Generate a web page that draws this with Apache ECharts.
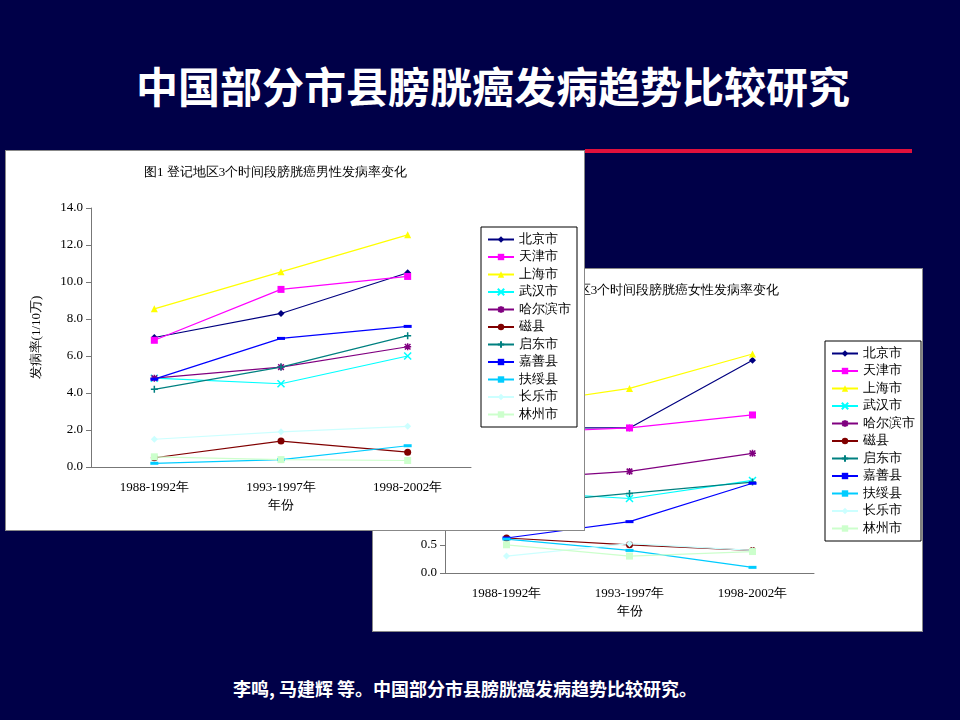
<!DOCTYPE html>
<html><head><meta charset="utf-8">
<script src="https://cdn.jsdelivr.net/npm/echarts@6/dist/echarts.min.js"></script>
<style>
body{margin:0;width:960px;height:720px;background:#000048;position:relative;overflow:hidden;font-family:"Noto Sans CJK SC",sans-serif}
#t{position:absolute;left:0;width:986px;top:54px;text-align:center;color:#fff;font-size:42px;font-weight:bold}
#line{position:absolute;left:585px;top:149px;width:327px;height:4px;background:#e0103c}
#f{position:absolute;left:0;width:930px;top:675px;text-align:center;color:#fff;font-size:18px;font-weight:bold}
.c{position:absolute;background:#fff;border:1px solid #888}
#c2{left:372px;top:268px;width:549px;height:362px;z-index:1}
#c1{left:5px;top:150px;width:578px;height:379px;z-index:2}
</style></head><body>
<div id="t">中国部分市县膀胱癌发病趋势比较研究</div>
<div id="line"></div>
<div id="c2" class="c"></div>
<div id="c1" class="c"></div>
<div id="f">李鸣, 马建辉 等。中国部分市县膀胱癌发病趋势比较研究。</div>
<script>
const categories=['1988-1992年','1993-1997年','1998-2002年'];
const names=['北京市','天津市','上海市','武汉市','哈尔滨市','磁县','启东市','嘉善县','扶绥县','长乐市','林州市'];
const colors=['#000080','#ff00ff','#ffff00','#00ffff','#800080','#800000','#008080','#0000ff','#00ccff','#ccffff','#ccffcc'];
const male=[[7.0,8.3,10.5],[6.85,9.6,10.3],[8.55,10.55,12.55],[4.8,4.5,6.0],[4.8,5.4,6.5],[0.5,1.4,0.8],[4.2,5.4,7.1],[4.75,6.95,7.6],[0.2,0.4,1.15],[1.5,1.9,2.2],[0.55,0.4,0.35]];
const female=[[2.57,2.57,3.77],[2.48,2.57,2.8],[2.95,3.27,3.88],[1.45,1.32,1.64],[1.66,1.8,2.12],[0.62,0.5,0.4],[1.21,1.41,1.61],[0.62,0.91,1.59],[0.6,0.4,0.1],[0.3,0.52,0.4],[0.5,0.3,0.38]];
const X='path://M0,0L10,10M10,0L0,10',AST='path://M0,5L10,5M5,0L5,10M1,1L9,9M9,1L1,9',PLUS='path://M0,5L10,5M5,0L5,10',DASH='path://M0,4L10,4L10,6L0,6Z';
const symbols=['diamond','rect','triangle',X,AST,'circle',PLUS,DASH,DASH,'diamond','rect'];
const stroked=[3,4,6];
const serif='"Liberation Serif","DejaVu Serif",serif';
function make(el,title,data,max,interval,grid,legendPos,titleLeft){
  const c=echarts.init(document.getElementById(el));
  c.setOption({
    animation:false,
    title:{text:title,left:titleLeft,top:10,textStyle:{fontSize:13,fontWeight:'normal',color:'#000',fontFamily:serif}},
    grid:grid,
    legend:Object.assign({orient:'vertical',data:names,itemWidth:26,itemHeight:8,itemGap:4.5,padding:[6,6,6,6],borderColor:'#000',borderWidth:1,backgroundColor:'#fff',textStyle:{fontSize:13,color:'#000',fontFamily:serif}},legendPos),
    xAxis:{type:'category',data:categories,name:'年份',nameLocation:'middle',nameGap:32,nameTextStyle:{fontSize:13,color:'#000'},
      axisLine:{lineStyle:{color:'#777'}},axisTick:{lineStyle:{color:'#777'}},axisLabel:{color:'#000',fontSize:13,fontFamily:serif,margin:14}},
    yAxis:{type:'value',min:0,max:max,interval:interval,name:el==='c1'?'发病率(1/10万)':'',nameLocation:'middle',nameGap:48,nameTextStyle:{fontSize:13,color:'#000',fontFamily:serif},
      splitLine:{show:false},axisLine:{show:true,lineStyle:{color:'#777'}},axisTick:{show:true,inside:false,lineStyle:{color:'#777'}},
      axisLabel:{color:'#000',fontSize:13,fontFamily:serif,formatter:v=>v.toFixed(1)}},
    series:names.map((n,i)=>({name:n,type:'line',data:data[i],symbol:symbols[i],symbolSize:i===7||i===8?[8,3]:7,
      itemStyle:{color:colors[i],borderColor:colors[i],borderWidth:stroked.includes(i)?1.5:0},lineStyle:{color:colors[i],width:1.2}}))
  });
}
make('c2','图2 登记地区3个时间段膀胱癌女性发病率变化',female,4.5,0.5,{left:72,right:108,top:50,bottom:58},{left:452,top:72},'center');
make('c1','图1 登记地区3个时间段膀胱癌男性发病率变化',male,14,2,{left:85,right:113,top:57,bottom:63},{left:475,top:76},133);
</script></body></html>
